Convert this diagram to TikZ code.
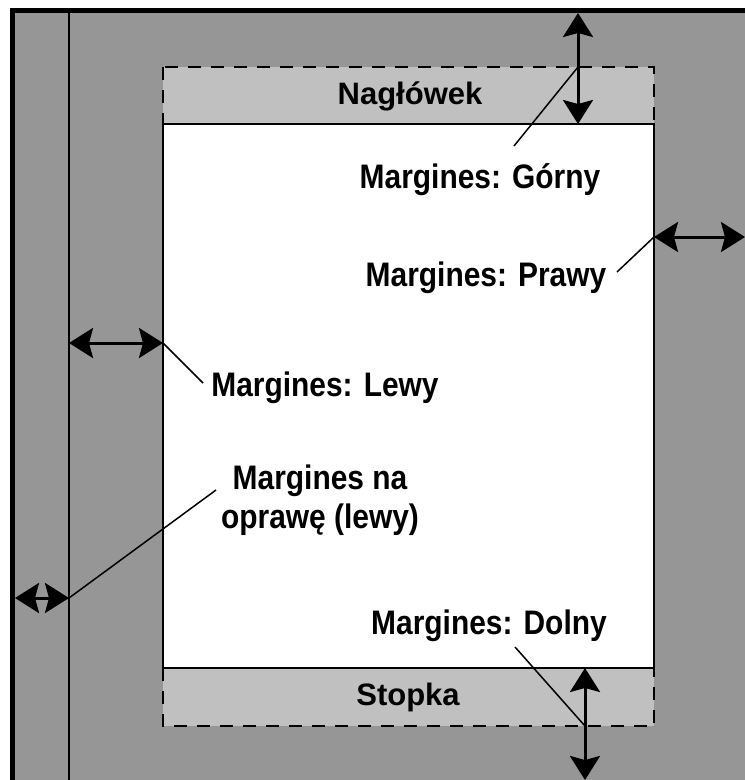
\documentclass[tikz,border=0pt]{standalone}
\usepackage{fontspec}
\setmainfont{Liberation Sans}
\newfontfamily\narrowbf[FakeStretch=0.88]{Liberation Sans Bold}
\usetikzlibrary{arrows.meta}
\definecolor{pagegray}{RGB}{150,150,150}
\definecolor{boxgray}{RGB}{192,192,192}
\tikzset{
  dimarrow/.style={{Stealth[length=24pt,width=30pt,inset=4pt]}-{Stealth[length=24pt,width=30pt,inset=4pt]},line width=3pt},
  leader/.style={line width=1.5pt},
  marglabel/.style={font=\fontsize{34}{39}\narrowbf,inner sep=0pt},
  boxlabel/.style={font=\fontsize{31}{36}\bfseries,inner sep=0pt},
  dashbox/.style={fill=boxgray,line width=1.5pt,dash pattern=on 13pt off 10pt}
}
\begin{document}
\begin{tikzpicture}[x=1pt,y=-1pt]
      \useasboundingbox (0,0) rectangle (745,780);
      \clip (0,0) rectangle (745,780);
      % page, binding line
      \fill[pagegray] (12.5,10.5) rectangle (760,800);
      \draw[line width=5pt] (12.5,800) |- (760,10.5);
      \draw[line width=1.5pt] (69,10.5) -- (69,800);
      % header, footer, text area
      \filldraw[dashbox] (163,67) rectangle (654,124);
      \filldraw[dashbox] (163,668) rectangle (654,726);
      \filldraw[fill=white,line width=1.5pt] (163,124) rectangle (654,668);
      \draw
        (410,96) node[boxlabel] (naglowek){Nagłówek}
        (408,697) node[boxlabel] (stopka){Stopka}
        (480,188) node[marglabel,anchor=base] (gorny){Margines: Górny}
        (486,286) node[marglabel,anchor=base] (prawy){Margines: Prawy}
        (325,396) node[marglabel,anchor=base] (lewy){Margines: Lewy}
        (320,528) node[marglabel,anchor=base,align=center] (oprawa){Margines na\\oprawę (lewy)}
        (489,634) node[marglabel,anchor=base] (dolny){Margines: Dolny};
      \coordinate (gorny-a) at (578,13);
      \coordinate (gorny-b) at (578,124);
      \coordinate (gorny-c) at (578,67);
      \coordinate (gorny-d) at (514,146);
      \coordinate (prawy-a) at (654,237);
      \coordinate (prawy-b) at (745,237);
      \coordinate (prawy-d) at (617,272);
      \coordinate (lewy-a) at (69,343);
      \coordinate (lewy-b) at (163,343);
      \coordinate (lewy-d) at (203,383);
      \coordinate (oprawa-a) at (15,598);
      \coordinate (oprawa-b) at (69,598);
      \coordinate (oprawa-d) at (216,490);
      \coordinate (dolny-a) at (585,668);
      \coordinate (dolny-b) at (585,780);
      \coordinate (dolny-c) at (585,726);
      \coordinate (dolny-d) at (515,647);
      \begin{scope}[dimarrow]
        \draw (gorny-a) to (gorny-b);
        \draw (prawy-a) to (prawy-b);
        \draw (lewy-a) to (lewy-b);
        \draw (oprawa-a) to (oprawa-b);
        \draw (dolny-a) to (dolny-b);
      \end{scope}
      \begin{scope}[leader]
        \draw (gorny-c) to (gorny-d);
        \draw (prawy-a) to (prawy-d);
        \draw (lewy-b) to (lewy-d);
        \draw (oprawa-b) to (oprawa-d);
        \draw (dolny-c) to (dolny-d);
      \end{scope}
    \end{tikzpicture}
\end{document}
